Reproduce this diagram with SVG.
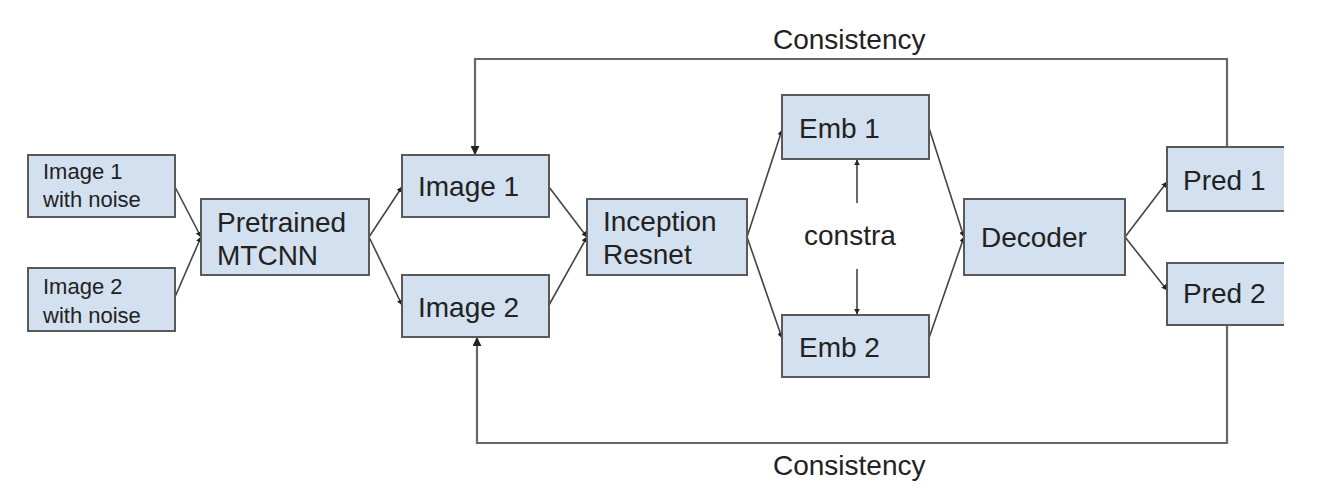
<svg xmlns="http://www.w3.org/2000/svg" width="1320" height="504" viewBox="0 0 1320 504">
<style>
.box{fill:#d3e0f0;stroke:#595959;stroke-width:2}
.fill{fill:#d3e0f0}
.edge{fill:none;stroke:#595959;stroke-width:2}
.t{font-family:"Liberation Sans",Arial,sans-serif;font-size:28px;fill:#222}
.s{font-family:"Liberation Sans",Arial,sans-serif;font-size:22px;fill:#222}
.c{fill:none;stroke:#444;stroke-width:1.6}
.f{fill:none;stroke:#666;stroke-width:2.2}
</style>
<defs>
<marker id="ah" viewBox="0 0 10 10" refX="9" refY="5" markerWidth="6" markerHeight="6" markerUnits="userSpaceOnUse" orient="auto">
<path d="M0,0 L10,5 L0,10 z" fill="#222"/>
</marker>
<marker id="ah2" viewBox="0 0 10 10" refX="9" refY="5" markerWidth="9" markerHeight="9" markerUnits="userSpaceOnUse" orient="auto">
<path d="M0,0 L10,5 L0,10 z" fill="#222"/>
</marker>
</defs>
<rect width="1320" height="504" fill="#fff"/>
<g id="connectors">
<line class="c" x1="175" y1="187" x2="201" y2="237" marker-end="url(#ah)"/>
<line class="c" x1="175" y1="297" x2="201" y2="237" marker-end="url(#ah)"/>
<line class="c" x1="369" y1="237" x2="402" y2="187" marker-end="url(#ah)"/>
<line class="c" x1="369" y1="237" x2="402" y2="305" marker-end="url(#ah)"/>
<line class="c" x1="549" y1="187" x2="587" y2="237" marker-end="url(#ah)"/>
<line class="c" x1="549" y1="305" x2="587" y2="237" marker-end="url(#ah)"/>
<line class="c" x1="747" y1="237" x2="782" y2="130" marker-end="url(#ah)"/>
<line class="c" x1="747" y1="237" x2="782" y2="338" marker-end="url(#ah)"/>
<line class="c" x1="929" y1="128" x2="964" y2="237" marker-end="url(#ah)"/>
<line class="c" x1="929" y1="338" x2="964" y2="237" marker-end="url(#ah)"/>
<line class="c" x1="1125" y1="237" x2="1167" y2="182" marker-end="url(#ah)"/>
<line class="c" x1="1125" y1="237" x2="1167" y2="290" marker-end="url(#ah)"/>
<line class="c" x1="857" y1="203" x2="857" y2="160" marker-end="url(#ah)"/>
<line class="c" x1="857" y1="269" x2="857" y2="314" marker-end="url(#ah)"/>
<path class="f" d="M1227,147 V59 H475 V154" marker-end="url(#ah2)"/>
<path class="f" d="M1227,324 V443 H477 V338" marker-end="url(#ah2)"/>
<text class="t" x="773" y="49">Consistency</text>
<text class="t" x="773" y="475">Consistency</text>
<text class="t" x="804" y="245">constra</text>
</g>
<g id="n1"><rect class="box" x="28" y="155" width="147" height="62"/><text class="s" x="43" y="179">Image 1</text><text class="s" x="43" y="207">with noise</text></g>
<g id="n2"><rect class="box" x="28" y="268" width="147" height="63"/><text class="s" x="43" y="294">Image 2</text><text class="s" x="43" y="323">with noise</text></g>
<g id="n3"><rect class="box" x="201" y="199" width="168" height="76"/><text class="t" x="217" y="232">Pretrained</text><text class="t" x="217" y="265">MTCNN</text></g>
<g id="n4"><rect class="box" x="402" y="155" width="147" height="62"/><text class="t" x="418" y="196">Image 1</text></g>
<g id="n5"><rect class="box" x="402" y="275" width="147" height="62"/><text class="t" x="418" y="317">Image 2</text></g>
<g id="n6"><rect class="box" x="587" y="199" width="160" height="76"/><text class="t" x="603" y="231">Inception</text><text class="t" x="603" y="264">Resnet</text></g>
<g id="n7"><rect class="box" x="782" y="95" width="147" height="64"/><text class="t" x="799" y="138">Emb 1</text></g>
<g id="n8"><rect class="box" x="782" y="315" width="147" height="62"/><text class="t" x="799" y="357">Emb 2</text></g>
<g id="n9"><rect class="box" x="964" y="199" width="161" height="76"/><text class="t" x="981" y="247">Decoder</text></g>
<g id="n10"><rect class="fill" x="1167" y="147" width="117" height="64"/><path class="edge" d="M1284,147 H1167 V211 H1284"/><text class="t" x="1183" y="190">Pred 1</text></g>
<g id="n11"><rect class="fill" x="1167" y="263" width="117" height="62"/><path class="edge" d="M1284,263 H1167 V325 H1284"/><text class="t" x="1183" y="303">Pred 2</text></g>
</svg>
